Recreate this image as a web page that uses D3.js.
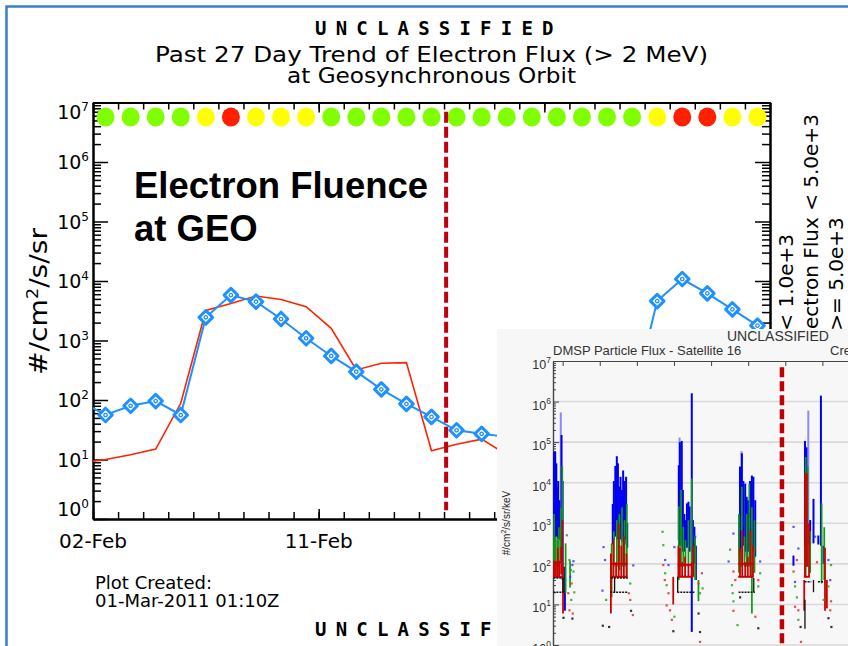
<!DOCTYPE html>
<html lang="en">
<head>
<meta charset="utf-8">
<title>Past 27 Day Trend of Electron Flux (> 2 MeV)</title>
<script src="https://cdn.jsdelivr.net/npm/d3@7"></script>
<style>
  body { margin: 0; background: #fff; }
  svg { display: block; }
</style>
</head>
<body>
<script>

// ---- GEO electron flux, one value per day, 01-Feb-2011 .. 01-Mar-2011 (first and last fall outside the axis)
var firstDay = Date.UTC(2011, 1, 1);
var geoFlux = [95, 56, 80, 96, 56, 2450, 5800, 4490, 2300, 1090, 550, 299, 151, 86, 52,
               31, 27, 24, 22, 26, 40, 55, 85, 4600, 10800, 6200, 3340, 1780, 900];
var modelFlux = [8.8, 10, 12, 15, 88, 3200, 4200, 5600, 4900, 3700, 1600, 320, 415, 425, 14,
                 18, 22, 12, 10, 11, 14, 40, 150, 600, 900, 700, 450, 300, 200];
var fluxLevels = [1e3, 5e3];                       // daily status thresholds
var levelColors = ["#80ff00", "#ffff00", "#ff2000"];
var levelText = ["Electron Flux < 1.0e+3", "1.0e+3 <= Electron Flux < 5.0e+3", "Electron Flux >= 5.0e+3"];
var xLabelDays = [Date.UTC(2011, 1, 2), Date.UTC(2011, 1, 11), Date.UTC(2011, 1, 20)];
var eventTime = Date.UTC(2011, 1, 16, 2);

// ---- DMSP F16 particle flux (hours UT): spikes are [hour, low, high]
var blueSpikes = [
  [13.77, 470, 5.8e4], [13.80, 85, 5.8e4], [13.83, 470, 3e4], [13.86, 470, 8e3], [13.88, 400, 1.1e4],
  [13.91, 400, 3.7e3], [13.97, 180, 1.5e5], [14.00, 40, 1.1e4], [14.06, 7, 85],
  [15.35, 300, 3e3], [15.38, 400, 1.1e4], [15.42, 470, 2.6e4], [15.46, 470, 4.5e4], [15.49, 400, 3e4],
  [15.53, 470, 8e3], [15.56, 400, 1.4e4], [15.60, 350, 6.6e3], [15.63, 400, 2e4], [15.67, 300, 1.1e4],
  [15.71, 400, 1.4e4], [15.74, 250, 1e3],
  [17.13, 390, 2.7e4], [17.16, 280, 1e5], [17.21, 280, 1.07e5], [17.24, 200, 6.6e3], [17.28, 200, 1.7e3],
  [17.31, 280, 1.2e3], [17.35, 250, 3.1e3], [17.39, 280, 3.4e3], [17.42, 200, 2.6e3], [17.48, 2.1, 1.6e6],
  [17.51, 200, 1.2e3], [17.55, 100, 820], [17.59, 40, 280],
  [18.76, 150, 1e3], [18.78, 200, 2.5e4], [18.83, 280, 5.3e4], [18.87, 280, 1.1e4], [18.92, 200, 9.5e3],
  [18.96, 150, 4.5e3], [19.00, 200, 3.7e3], [19.05, 280, 1.1e4], [19.10, 280, 1.5e4], [19.14, 200, 1.4e4],
  [19.19, 150, 3.7e3],
  [20.22, 90, 160], [20.53, 280, 1.07e5], [20.57, 350, 7.4e4], [20.67, 300, 1.2e3], [20.76, 320, 4e3],
  [20.89, 300, 500], [20.96, 280, 1.4e6], [21.03, 100, 280]
];
var blueFaint = [[13.95, 400, 5.4e5], [17.15, 300, 1.3e5], [18.82, 250, 6e4], [20.62, 300, 6e5], [20.55, 400, 8e4]];
var greenSpikes = [
  [13.77, 85, 1.7e3], [13.81, 85, 470], [13.86, 70, 400], [13.90, 85, 800], [13.95, 120, 2.4e3], [13.99, 85, 2.6e4],
  [14.08, 19, 320], [14.20, 26, 120],
  [15.32, 15, 320], [15.38, 85, 640], [15.46, 85, 1.2e3], [15.53, 70, 1.7e3], [15.60, 85, 2.5e3], [15.67, 85, 1.2e3],
  [15.73, 48, 3e3],
  [17.13, 40, 2.6e3], [17.19, 85, 6.6e3], [17.25, 85, 820], [17.31, 85, 390], [17.39, 85, 1.2e3], [17.48, 48, 1.27e4],
  [17.57, 40, 470], [17.66, 12, 40],
  [18.75, 60, 1.7e3], [18.83, 85, 8e3], [18.90, 85, 470], [18.96, 85, 1.7e3], [19.03, 85, 9.5e3], [19.10, 6, 2.5e3],
  [19.17, 60, 1.2e3],
  [20.55, 48, 4.3e4], [20.60, 85, 2.6e4], [20.67, 60, 640], [20.98, 33, 3.1e3], [21.05, 40, 800]
];
var redSpikes = [
  [13.77, 48, 120], [13.82, 48, 110], [13.87, 48, 250], [13.91, 48, 120], [13.96, 55, 260], [13.99, 55, 1.2e3], [14.01, 6, 85],
  [15.30, 6, 180], [15.37, 48, 400], [15.44, 48, 110], [15.51, 48, 1e3], [15.58, 48, 280], [15.65, 48, 470], [15.72, 48, 180],
  [16.98, 10, 48], [17.12, 48, 280], [17.16, 48, 250], [17.22, 48, 110], [17.30, 48, 150], [17.39, 48, 100], [17.48, 48, 110],
  [17.52, 48, 280],
  [18.78, 48, 250], [18.84, 48, 680], [18.92, 48, 110], [18.99, 48, 150], [19.06, 48, 680], [19.13, 48, 280],
  [20.51, 7, 40], [20.53, 48, 1.7e4], [20.58, 85, 1.7e4], [20.64, 48, 1e3], [21.07, 7, 250], [21.12, 8, 40]
];
// horizontal steps: [hour from, hour to, value]
var redSteps = [[13.76, 14.01, 48], [13.76, 14.01, 110], [15.30, 15.75, 48], [15.30, 15.75, 100], [17.10, 17.52, 48],
                [17.10, 17.52, 95], [18.73, 19.15, 48], [18.73, 19.15, 100], [20.50, 20.66, 48]];
var blackSteps = [[13.75, 14.02, 45], [13.75, 14.05, 20], [15.30, 15.76, 45], [15.28, 15.76, 20], [17.09, 17.56, 20],
                  [18.74, 19.18, 20], [20.52, 20.70, 36], [20.88, 21.05, 36]];
var blackSpikes = [[14.01, 20, 45], [15.40, 20, 45], [17.10, 20, 48], [19.15, 20, 45], [20.53, 2.5, 13], [20.76, 20, 40]];
// scattered samples: [hour, value, channel]
var dots = [
  [14.11, 510, "g"], [14.18, 125, "g"], [14.29, 117, "b"], [14.26, 94, "b"], [14.22, 71, "g"], [14.20, 48, "b"],
  [14.29, 65, "g"], [14.24, 33, "r"], [14.15, 19, "r"], [14.31, 20, "g"], [14.23, 13, "g"], [14.18, 7.2, "r"],
  [14.27, 6, "r"], [14.02, 4.7, "k"], [14.26, 4.5, "k"],
  [15.10, 260, "b"], [15.14, 125, "b"], [15.07, 22, "b"], [15.17, 13, "g"], [15.08, 3, "k"], [15.25, 2.8, "k"],
  [15.90, 92, "b"], [15.82, 13, "r"], [15.89, 5.5, "r"], [15.84, 7, "k"], [15.82, 33, "g"], [15.78, 19, "r"],
  [16.69, 620, "g"], [16.71, 290, "g"], [16.76, 125, "b"], [16.71, 94, "r"], [16.85, 94, "b"], [16.76, 59, "g"],
  [16.75, 40, "r"], [16.80, 30, "g"], [16.85, 19, "r"], [16.80, 9.5, "r"], [16.89, 7.2, "r"], [16.98, 2.2, "k"],
  [17.01, 260, "b"], [17.01, 5, "g"], [16.94, 4.2, "r"], [17.75, 59, "r"], [17.70, 19, "g"], [17.66, 33, "r"],
  [17.66, 6, "k"], [17.70, 2.1, "k"], [17.70, 1.2, "r"], [17.57, 470, "b"], [17.77, 25, "g"],
  [18.60, 560, "b"], [18.51, 225, "g"], [18.47, 115, "b"], [18.60, 65, "r"], [18.65, 40, "r"], [18.56, 30, "g"],
  [18.58, 19, "g"], [18.60, 12, "g"], [18.60, 7, "r"], [18.71, 3.1, "g"], [18.78, 15, "k"], [19.32, 115, "b"],
  [19.32, 59, "g"], [19.27, 40, "r"], [19.27, 28, "g"], [19.19, 5, "r"], [19.27, 2.6, "k"],
  [20.22, 820, "b"], [20.35, 240, "b"], [20.31, 125, "r"], [20.26, 36, "b"], [20.26, 28, "g"], [20.22, 65, "r"],
  [20.31, 15, "g"], [20.26, 8.8, "r"], [20.35, 7.2, "r"], [20.35, 4.2, "g"], [20.41, 2.8, "k"], [20.42, 1.2, "r"],
  [20.80, 470, "b"], [20.85, 110, "r"], [21.16, 125, "b"], [21.23, 94, "g"], [21.21, 40, "b"], [21.16, 28, "g"],
  [21.23, 12, "r"], [21.21, 7.2, "r"], [21.16, 4.6, "k"], [21.24, 2.8, "k"], [21.03, 13, "g"]
];
var insetHours = [14, 15, 16, 17, 18, 19, 20, 21];
var insetEvent = 19.91;

var W = 848, H = 646;
var svg = d3.select("body").append("svg")
            .attr("width", W)
            .attr("height", H)
            .style("font-family", "'DejaVu Sans', sans-serif");

// slide frame
svg.append("path")
   .attr("d", "M6.5," + H + "V6.5H" + W)
   .attr("fill", "none")
   .attr("stroke", "#3a7fc6")
   .attr("stroke-width", 2.5);

// ---------------- main GEO plot ----------------
var m = {left: 93, right: 770, top: 102.5, bottom: 519};
var x = d3.scaleUtc().domain([Date.UTC(2011, 1, 2), Date.UTC(2011, 2, 1)]).range([m.left, m.right]);
var y = d3.scaleLog().domain([1, 1e7]).range([m.bottom, m.top]);

var rows = geoFlux.map(function(v, i) {
  return {date: new Date(firstDay + i * 864e5 + 432e5), geo: v, model: modelFlux[i]};
});
var shown = rows.slice(1, 28);

function unclassified(yPos) {
  svg.append("text")
     .attr("x", 315).attr("y", yPos)
     .attr("font-family", "'DejaVu Sans Mono', monospace")
     .attr("font-weight", "bold")
     .attr("font-size", 19)
     .attr("letter-spacing", 9.2)
     .text("UNCLASSIFIED");
}
unclassified(35);

svg.append("text").attr("x", 431.5).attr("y", 62).attr("text-anchor", "middle")
   .attr("font-size", 22).attr("textLength", 553).attr("lengthAdjust", "spacingAndGlyphs")
   .text("Past 27 Day Trend of Electron Flux (> 2 MeV)");
svg.append("text").attr("x", 431.5).attr("y", 83).attr("text-anchor", "middle")
   .attr("font-size", 22).attr("textLength", 289).attr("lengthAdjust", "spacingAndGlyphs")
   .text("at Geosynchronous Orbit");

// legend text, rotated along the right edge
svg.selectAll(".lvl")
   .data(levelText)
   .enter()
   .append("text")
   .attr("transform", function(d, i) { return "translate(" + (793 + i * 25) + ",467) rotate(-90)"; })
   .attr("font-size", 20)
   .text(function(d) { return d; });

var decades = d3.range(0, 8).map(function(e) { return Math.pow(10, e); });
var minors = [];
decades.slice(0, 7).forEach(function(d) { for (var k = 2; k < 10; k++) minors.push(d * k); });

function styleAxis(g, w) {
  g.select(".domain").attr("stroke", "#000").attr("stroke-width", 2);
  g.selectAll(".tick line").attr("stroke", "#000").attr("stroke-width", w);
}
[[d3.axisRight, m.left], [d3.axisLeft, m.right]].forEach(function(a) {
  svg.append("g").attr("transform", "translate(" + a[1] + ",0)")
     .call(a[0](y).tickValues(minors).tickSize(8).tickSizeOuter(0).tickFormat(""))
     .call(styleAxis, 1.5);
  svg.append("g").attr("transform", "translate(" + a[1] + ",0)")
     .call(a[0](y).tickValues(decades).tickSize(15).tickSizeOuter(0).tickFormat(""))
     .call(styleAxis, 1.5);
});
[[d3.axisTop, m.bottom], [d3.axisBottom, m.top]].forEach(function(a) {
  svg.append("g").attr("transform", "translate(0," + a[1] + ")")
     .call(a[0](x).ticks(d3.utcDay.every(1)).tickSize(7).tickSizeOuter(0).tickFormat(""))
     .call(styleAxis, 1.5);
  svg.append("g").attr("transform", "translate(0," + a[1] + ")")
     .call(a[0](x).tickValues(xLabelDays.map(function(d) { return new Date(d); })).tickSize(10).tickSizeOuter(0).tickFormat(""))
     .call(styleAxis, 1.5);
});

// y tick labels 10^n
var ylab = svg.selectAll(".ylab")
   .data(decades)
   .enter()
   .append("text")
   .attr("x", 89)
   .attr("y", function(d) { return Math.max(m.top + 9, Math.min(m.bottom - 10, y(d))) + 7; })
   .attr("text-anchor", "end")
   .attr("font-size", 19);
ylab.append("tspan").text("10");
ylab.append("tspan").attr("dy", -8).attr("font-size", 12).text(function(d) { return Math.round(Math.log10(d)); });

var fmt = d3.utcFormat("%d-%b");
svg.selectAll(".xlab")
   .data(xLabelDays)
   .enter()
   .append("text")
   .attr("x", function(d) { return x(new Date(d)); })
   .attr("y", 548)
   .attr("text-anchor", "middle")
   .attr("font-size", 20)
   .text(function(d) { return fmt(new Date(d)); });

var ytitle = svg.append("text")
   .attr("transform", "translate(47,375) rotate(-90)")
   .attr("font-size", 24)
   .attr("textLength", 147)
   .attr("lengthAdjust", "spacingAndGlyphs");
ytitle.append("tspan").text("#/cm");
ytitle.append("tspan").attr("dy", -9).attr("font-size", 15).text("2");
ytitle.append("tspan").attr("dy", 9).text("/s/sr");

svg.append("text").attr("x", 95).attr("y", 589).attr("font-size", 18).text("Plot Created:");
svg.append("text").attr("x", 95).attr("y", 607).attr("font-size", 18).text("01-Mar-2011 01:10Z");
unclassified(636);

// daily status row
var level = d3.scaleThreshold().domain(fluxLevels).range(levelColors);
svg.selectAll(".status")
   .data(shown)
   .enter()
   .append("ellipse")
   .attr("cx", function(d) { return x(d.date); })
   .attr("cy", 117)
   .attr("rx", 9)
   .attr("ry", 9.6)
   .attr("fill", function(d) { return level(d.geo); });

svg.append("clipPath").attr("id", "plotclip")
   .append("rect").attr("x", m.left).attr("y", m.top)
   .attr("width", m.right - m.left).attr("height", m.bottom - m.top);

var plot = svg.append("g").attr("clip-path", "url(#plotclip)");
plot.append("path")
    .datum(rows)
    .attr("fill", "none")
    .attr("stroke", "#ff2200")
    .attr("stroke-width", 1.6)
    .attr("d", d3.line().x(function(d) { return x(d.date); }).y(function(d) { return y(d.model); }));
plot.append("path")
    .datum(rows)
    .attr("fill", "none")
    .attr("stroke", "#1e90ff")
    .attr("stroke-width", 2)
    .attr("d", d3.line().x(function(d) { return x(d.date); }).y(function(d) { return y(d.geo); }));

var marks = plot.selectAll(".mk")
    .data(shown)
    .enter()
    .append("g")
    .attr("transform", function(d) { return "translate(" + x(d.date) + "," + y(d.geo) + ")"; });
marks.append("path")
    .attr("d", d3.symbol(d3.symbolSquare, 92)())
    .attr("transform", "rotate(45)")
    .attr("fill", "#fff")
    .attr("stroke", "#1e90ff")
    .attr("stroke-width", 3)
    .attr("stroke-linejoin", "round");
marks.append("circle").attr("r", 1.7).attr("fill", "none").attr("stroke", "#1e90ff").attr("stroke-width", 1.3);

// event marker
svg.append("line")
   .attr("x1", x(new Date(eventTime))).attr("x2", x(new Date(eventTime)))
   .attr("y1", y(7e6)).attr("y2", y(1.4))
   .attr("stroke", "#c0000c")
   .attr("stroke-width", 4)
   .attr("stroke-dasharray", "11,4");

svg.append("text").attr("x", 134).attr("y", 198)
   .attr("font-family", "'Liberation Sans', Arial, sans-serif").attr("font-weight", "bold").attr("font-size", 36.5)
   .text("Electron Fluence");
svg.append("text").attr("x", 134).attr("y", 241)
   .attr("font-family", "'Liberation Sans', Arial, sans-serif").attr("font-weight", "bold").attr("font-size", 36.5)
   .text("at GEO");

// ---------------- DMSP inset ----------------
var inset = svg.append("g").attr("font-family", "'Liberation Sans', Arial, sans-serif");
inset.append("rect").attr("x", 497).attr("y", 329).attr("width", W - 497).attr("height", H - 329).attr("fill", "#f7f7f7");

var ix = d3.scaleLinear().domain([13.74, 21.69]).range([553, 848]);
var iy = d3.scaleLog().domain([1, 1e7]).range([645, 361]);

inset.append("text").attr("x", 727).attr("y", 341).attr("font-size", 14).attr("fill", "#333").text("UNCLASSIFIED");
inset.append("text").attr("x", 553).attr("y", 355).attr("font-size", 13).attr("fill", "#333").text("DMSP Particle Flux - Satellite 16");
inset.append("text").attr("x", 830).attr("y", 355).attr("font-size", 13).attr("fill", "#333").text("Created:");

inset.selectAll(".grid")
     .data(decades.slice(0, 7))
     .enter()
     .append("line")
     .attr("x1", 553).attr("x2", W)
     .attr("y1", function(d) { return iy(d); }).attr("y2", function(d) { return iy(d); })
     .attr("stroke", "#d9d9d9")
     .attr("stroke-width", 1.6);

function styleInset(g) {
  g.select(".domain").attr("stroke", "#444").attr("stroke-width", 1.2);
  g.selectAll(".tick line").attr("stroke", "#444").attr("stroke-width", 1);
}
inset.append("g").attr("transform", "translate(553,0)")
     .call(d3.axisRight(iy).tickValues(minors).tickSize(3).tickSizeOuter(0).tickFormat("")).call(styleInset);
inset.append("g").attr("transform", "translate(553,0)")
     .call(d3.axisRight(iy).tickValues(decades).tickSize(6).tickSizeOuter(0).tickFormat("")).call(styleInset);
inset.append("g").attr("transform", "translate(0,361)")
     .call(d3.axisBottom(ix).tickValues(insetHours).tickSize(5).tickSizeOuter(0).tickFormat("")).call(styleInset);

var ilab = inset.selectAll(".ilab")
     .data(decades)
     .enter()
     .append("text")
     .attr("x", 551)
     .attr("y", function(d) { return iy(d) + 8; })
     .attr("text-anchor", "end")
     .attr("font-size", 12.5)
     .attr("fill", "#333");
ilab.append("tspan").text("10");
ilab.append("tspan").attr("dy", -6).attr("font-size", 8.5).text(function(d) { return Math.round(Math.log10(d)); });

var ititle = inset.append("text")
     .attr("transform", "translate(510,523) rotate(-90)")
     .attr("text-anchor", "middle")
     .attr("font-size", 10)
     .attr("fill", "#222");
ititle.append("tspan").text("#/cm");
ititle.append("tspan").attr("dy", -4).attr("font-size", 7).text("2");
ititle.append("tspan").attr("dy", 4).text("/s/sr/keV");

var ip = inset.append("g");
function spikes(data, color, width, opacity) {
  ip.append("g").selectAll("line")
    .data(data)
    .enter()
    .append("line")
    .attr("x1", function(d) { return ix(d[0]); })
    .attr("x2", function(d) { return ix(d[0]); })
    .attr("y1", function(d) { return iy(d[1]); })
    .attr("y2", function(d) { return iy(d[2]); })
    .attr("stroke", color)
    .attr("stroke-width", width)
    .attr("opacity", opacity);
}
function steps(data, color, width, dash) {
  ip.append("g").selectAll("line")
    .data(data)
    .enter()
    .append("line")
    .attr("x1", function(d) { return ix(d[0]); })
    .attr("x2", function(d) { return ix(d[1]); })
    .attr("y1", function(d) { return iy(d[2]); })
    .attr("y2", function(d) { return iy(d[2]); })
    .attr("stroke", color)
    .attr("stroke-width", width)
    .attr("stroke-dasharray", dash);
}
spikes(blueFaint, "#7f7fff", 2, 0.9);
spikes(blueSpikes, "#0000f0", 2, 1);
spikes(greenSpikes, "#0f9a0f", 1.7, 1);
spikes(redSpikes, "#cc0000", 1.8, 1);
steps(redSteps, "#cc0000", 2, null);
steps(blackSteps, "#111", 1.5, "2,1");
spikes(blackSpikes, "#111", 1.3, 1);

var dotColor = {b: "#3a3aff", g: "#2aa02a", r: "#e03030", k: "#111"};
ip.append("g").selectAll("rect")
  .data(dots)
  .enter()
  .append("rect")
  .attr("x", function(d) { return ix(d[0]) - 1; })
  .attr("y", function(d) { return iy(d[1]) - 1; })
  .attr("width", 2.2)
  .attr("height", 2.2)
  .attr("fill", function(d) { return dotColor[d[2]]; })
  .attr("opacity", 0.85);

inset.append("line")
     .attr("x1", ix(insetEvent)).attr("x2", ix(insetEvent))
     .attr("y1", iy(7e6)).attr("y2", H)
     .attr("stroke", "#c00000")
     .attr("stroke-width", 4.5)
     .attr("stroke-dasharray", "10,4");

</script>
</body>
</html>
